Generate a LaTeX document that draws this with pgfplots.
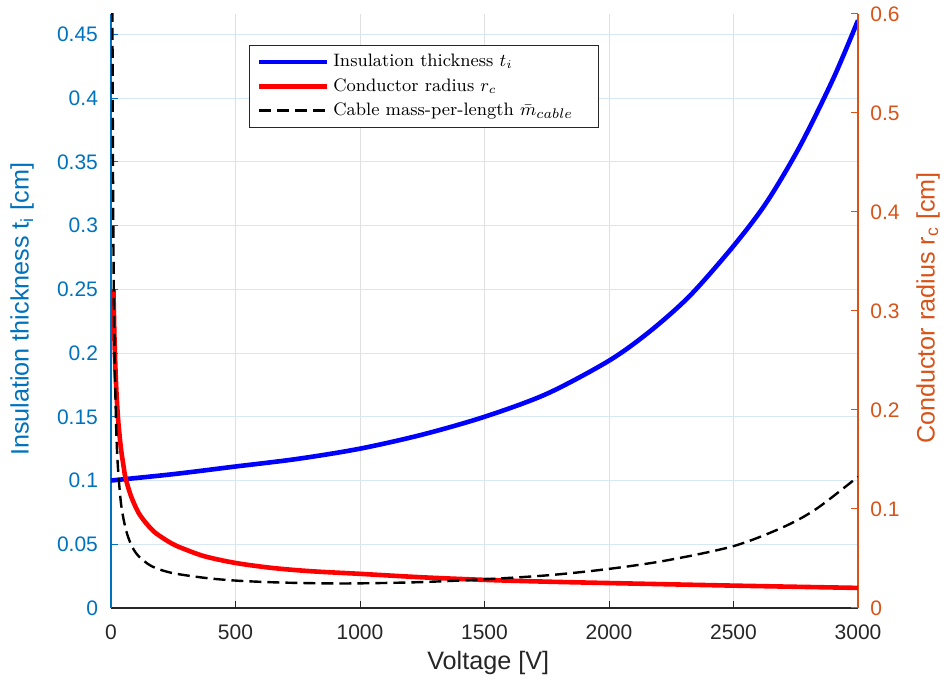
\documentclass[border=0pt]{standalone}
\usepackage{fontspec}
\usepackage{pgfplots}
\pgfplotsset{compat=1.18}
\newfontfamily\arial{Liberation Sans}
\definecolor{mblue}{RGB}{0,114,189}
\definecolor{morange}{RGB}{217,83,25}
\definecolor{mgray}{RGB}{38,38,38}
\definecolor{gridx}{RGB}{223,223,223}
\definecolor{gridy}{RGB}{215,232,244}
\begin{document}
\begin{tikzpicture}
\pgfplotsset{
  common/.style={
    scale only axis, width=373.5pt, height=297pt,
    xmin=0, xmax=3000,
    /pgf/number format/assume math mode=true,
    /pgf/number format/1000 sep={},
    tick align=inside,
    major tick length=3.5pt,
    ticklabel style={font=\arial\fontsize{10.5}{12}\selectfont},
    label style={font=\arial\fontsize{12.6}{14}\selectfont},
  }
}
\begin{axis}[common, name=L,
  axis x line*=bottom, axis y line*=left,
  ymin=0, ymax=0.466,
  xtick={0,500,1000,1500,2000,2500,3000},
  ytick={0,0.05,0.1,0.15,0.2,0.25,0.3,0.35,0.4,0.45},
  yticklabels={0,0.05,0.1,0.15,0.2,0.25,0.3,0.35,0.4,0.45},
  grid=major,
  major x grid style={gridx, line width=0.5pt},
  major y grid style={gridy, line width=0.5pt},
  x axis line style={mgray, line width=0.6pt, -},
  y axis line style={mblue, line width=0.6pt, -},
  xtick style={mgray, line width=0.5pt}, ytick style={mblue, line width=0.5pt},
  xticklabel style={mgray, yshift=-5pt},
  yticklabel style={mblue, xshift=-3pt},
  xlabel={Voltage [V]},
  ylabel={Insulation thickness t\textsubscript{i} [cm]},
  xlabel style={mgray, at={(axis description cs:0.505,-0.0926)}, anchor=center},
  ylabel style={mblue, at={(axis description cs:-0.119,0.503)}, anchor=center},
]
\addplot[blue, line width=2.3pt, smooth] coordinates {
(0,0.100) (250,0.105) (500,0.111) (750,0.117) (1000,0.125) (1250,0.136)
(1500,0.150) (1750,0.168) (2000,0.194) (2164,0.217) (2325,0.245)
(2500,0.284) (2632,0.318) (2766,0.362) (2900,0.415) (3000,0.461)
};
\end{axis}
\begin{axis}[common,
  axis x line=none, axis y line*=right,
  ymin=0, ymax=0.6,
  ytick={0,0.1,0.2,0.3,0.4,0.5,0.6},
  yticklabels={0,0.1,0.2,0.3,0.4,0.5,0.6},
  y axis line style={morange, line width=0.6pt, -},
  ytick style={morange, line width=0.5pt},
  yticklabel style={morange, xshift=2.7pt},
  ylabel={Conductor radius r\textsubscript{c} [cm]},
  ylabel style={morange, at={(axis description cs:1.0937,0.505)}, anchor=center},
  legend style={at={(axis description cs:0.185,0.948)}, anchor=north west,
    font=\fontsize{9}{11}\selectfont, draw=mgray, line width=0.5pt, fill=white,
    inner xsep=3.5pt, inner ysep=2.5pt, row sep=0.3pt},
  legend cell align=left,
  legend image code/.code={\draw[#1] (0pt,0pt) -- (34pt,0pt);},
]
\addlegendimage{blue, line width=2.3pt}
\addlegendentry{Insulation thickness $t_i$}
\addplot[red, line width=2.3pt, smooth] coordinates {
(10,0.322) (12,0.294) (15,0.263) (20,0.228) (25,0.204) (30,0.186) (40,0.161)
(50,0.144) (57,0.133) (70,0.121) (85,0.110) (111,0.096) (140,0.086)
(178,0.076) (245,0.065) (300,0.059) (379,0.0520) (500,0.0455) (646,0.0405)
(800,0.0372) (1000,0.0345) (1250,0.031) (1500,0.0284) (1750,0.0266)
(2000,0.0252) (2500,0.0226) (3000,0.0203)
};
\addlegendentry{Conductor radius $r_c$}
\addplot[black, line width=1.2pt, dash pattern=on 6pt off 3pt, smooth] coordinates {
(5,0.695) (6,0.583) (8,0.444) (10,0.359) (12,0.302) (15,0.247) (20,0.190)
(24,0.160) (30,0.134) (40,0.106) (51,0.089) (65,0.0746) (84,0.0623)
(111,0.0523) (164,0.0421) (245,0.0354) (378,0.0304) (500,0.0277)
(646,0.0260) (800,0.0251) (960,0.0248) (1227,0.0260) (1500,0.0290)
(1762,0.0332) (2000,0.0395) (2230,0.0480) (2500,0.0625) (2698,0.0815)
(2832,0.1000) (3000,0.1326)
};
\addlegendentry{Cable mass-per-length $\bar{m}_{\mbox{\fontsize{7.5}{8}\selectfont$cable$}}$\rule{7pt}{0pt}}
\end{axis}
\pgfresetboundingbox
\useasboundingbox (L.south west) ++(-55.5pt,-38pt) rectangle ++(473.5pt,342pt);
\end{tikzpicture}
\end{document}
